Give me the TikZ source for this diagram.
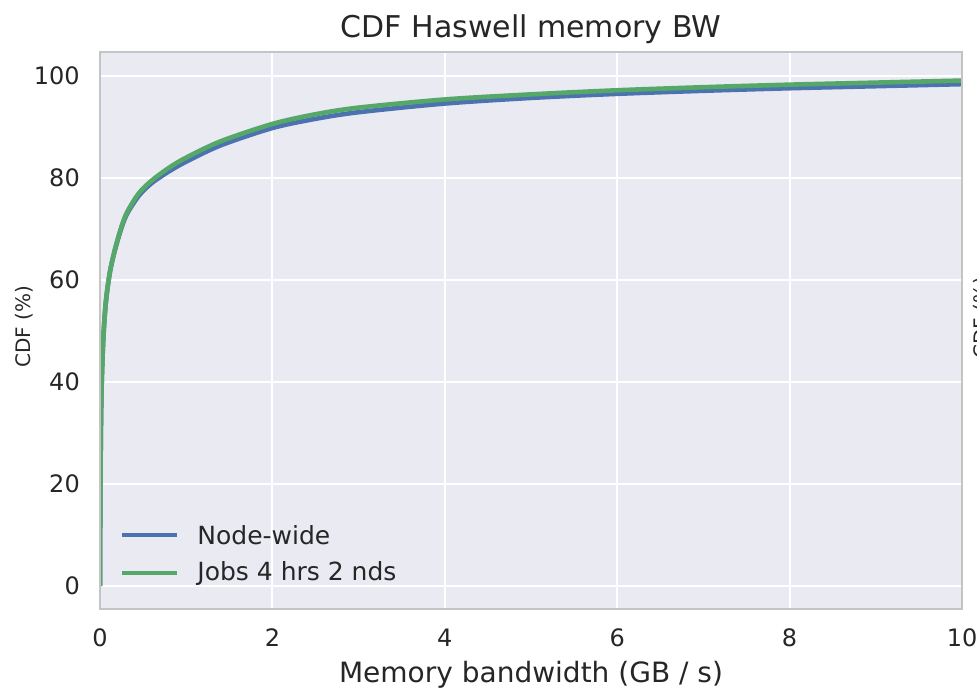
\documentclass[tikz,border=0pt]{standalone}
\usepackage{fontspec}
\setmainfont{DejaVu Sans}
\usetikzlibrary{positioning}
\definecolor{axbg}{HTML}{EAEAF2}
\definecolor{txt}{HTML}{262626}
\definecolor{nodewide}{HTML}{4C72B0}
\definecolor{jobs}{HTML}{55A868}
\definecolor{axframe}{HTML}{C4C4C4}

\begin{document}
\begin{tikzpicture}[x=0.5pt,y=-0.5pt,
    gridline/.style={white,line width=1pt},
    ticklbl/.style={text=txt,inner sep=0pt,font=\fontsize{12}{14}\selectfont},
    legtxt/.style={text=txt,inner sep=0pt,anchor=west,font=\fontsize{12.5}{15}\selectfont},
    curve/.style={line width=2.3pt,line join=round}]
  \useasboundingbox (0,0) rectangle (977,689);
  % axes area
  \fill[axbg] (100,52) rectangle (962,609);
  \begin{scope}[shift={(100,586)},x=43.1pt,y=2.55pt]
    \foreach \xv in {2,4,6,8}
      \draw[gridline] (\xv,-4.5) -- (\xv,104.7);
    \foreach \yv in {0,20,...,100}
      \draw[gridline] (0,\yv) -- (10,\yv);
    \foreach \yv in {0,20,...,100}
      \node[ticklbl,anchor=east] (yt\yv) at (-0.23,\yv) {\yv};
    \foreach \xv in {0,2,...,10}
      \node[ticklbl] (xt\xv) at (\xv,-10.2) {\xv};
    \begin{scope}
      \clip (0,-4.5) rectangle (10,104.7);
      % Node-wide
      \draw[curve,nodewide] plot[smooth,tension=0.5] coordinates {
        (0,0) (0.003,14) (0.01,30) (0.02,40) (0.04,49) (0.07,56) (0.12,62)
        (0.2,67.5) (0.3,72.5) (0.45,76.5) (0.6,79) (0.8,81.3) (1,83.2)
        (1.4,86.4) (2,89.8) (2.5,91.6) (3,92.9) (4,94.6) (5,95.7) (6,96.5)
        (7,97.1) (8,97.6) (9,98) (10,98.4)};
      % Jobs 4 hrs 2 nds
      \draw[curve,jobs] plot[smooth,tension=0.5] coordinates {
        (0,0) (0.003,14) (0.01,30) (0.02,40) (0.04,49) (0.07,56) (0.12,62)
        (0.2,67.7) (0.3,72.8) (0.45,77) (0.6,79.5) (0.8,82) (1,84)
        (1.4,87.2) (2,90.6) (2.5,92.5) (3,93.8) (4,95.4) (5,96.4) (6,97.2)
        (7,97.8) (8,98.3) (9,98.7) (10,99.1)};
    \end{scope}
  \end{scope}
  \draw[axframe,line width=0.6pt] (100,52) rectangle (962,609);
  % legend
  \coordinate (nwA) at (122,535);
  \coordinate (nwB) at (177,535);
  \coordinate (jbA) at (122,573);
  \coordinate (jbB) at (177,573);
  \draw[curve,nodewide] (nwA) -- (nwB);
  \draw[curve,jobs] (jbA) -- (jbB);
  \node[legtxt,right=10pt of nwB] (nwlbl) {Node-wide};
  \node[legtxt,right=10pt of jbB] (jblbl) {Jobs 4 hrs 2 nds};
  % titles
  \node[text=txt,anchor=base,inner sep=0pt,font=\fontsize{15}{18}\selectfont] (title) at (531,38) {CDF Haswell memory BW};
  \node[text=txt,anchor=base,inner sep=0pt,font=\fontsize{14}{17}\selectfont] (xlab) at (531,682) {Memory bandwidth (GB / s)};
  \node[text=txt,rotate=90,inner sep=0pt,font=\fontsize{10}{12}\selectfont] (ylab) at (24,327) {CDF (\%)};
  \node[text=txt,rotate=90,inner sep=0pt,font=\fontsize{10}{12}\selectfont] (ylabnext) at (982,318) {CDF (\%)};
\end{tikzpicture}
\end{document}
